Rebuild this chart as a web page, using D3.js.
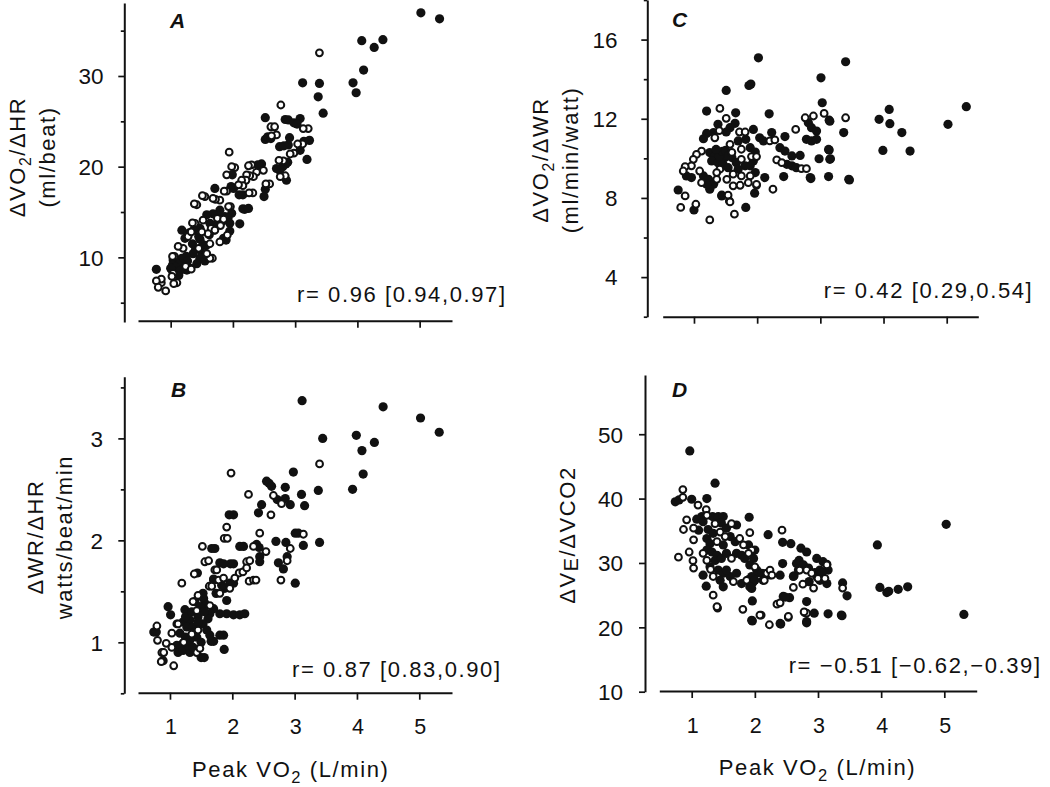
<!DOCTYPE html>
<html><head><meta charset="utf-8">
<script src="https://cdn.jsdelivr.net/npm/d3@7"></script>
<style>
body{margin:0;background:#fff;}
svg{display:block;}
text{font-family:"Liberation Sans",Arial,Helvetica,sans-serif;fill:#111;}
</style>
</head><body>
<svg id="c" width="1050" height="787"></svg>
<script>
// ---------- data ----------
const xTicks = [1, 2, 3, 4, 5];
const xTickLabels = ["1", "2", "3", "4", "5"];

// Panel A: dVO2/dHR vs peak VO2
const aFilled = [[5.02,36.97],[5.32,36.3],[4.07,33.9],[4.41,34.0],[4.27,33.15],[4.10,30.65],[3.12,29.25],[3.39,29.18],[3.93,29.25],[3.37,27.7],[3.98,28.15],[3.45,25.9],
[2.52,25.4],[2.84,25.2],[2.89,25.16],[2.98,24.84],[3.08,25.3],[3.03,24.7],
[2.52,23.0],[2.56,23.3],[2.61,23.1],[2.91,23.2],[2.89,22.4],[2.75,22.2],[3.23,22.9],[3.14,22.8],[3.08,21.8],[3.19,20.8],[2.82,22.3],
[2.85,20.3],[2.80,20.0],[2.75,19.6],[2.86,18.5],[2.70,19.8],[2.88,20.5],
[2.46,20.3],[2.44,20.0],[2.40,20.2],[1.99,19.1],[2.01,17.6],[1.97,17.8],[2.52,17.5],[2.50,16.7],[2.10,16.9],[2.19,15.3],[2.16,15.35],[1.71,17.6],[2.25,15.4],[2.16,16.9],
[1.98,14.85],[1.79,15.2],[1.74,14.7],[1.68,14.8],[1.58,14.7],[1.87,14.5],[1.92,14.3],[1.63,13.75],[1.95,13.75],[2.11,13.7],[1.47,13.2],[1.40,13.5],[1.37,13.0],[1.18,13.0],[1.30,12.7],[1.95,12.9],[1.85,12.1],[1.89,11.9],
[1.23,12.1],[1.47,12.0],[1.52,11.4],[1.57,11.3],[1.36,10.4],[1.40,10.9],[1.50,10.5],[1.57,10.3],[1.52,9.9],[1.47,9.9],[1.25,10.1],[1.18,9.9],[1.27,9.6],[1.18,9.26],[1.04,9.7],[1.10,9.3],[1.05,9.0],[1.03,9.15],[1.08,8.9],[1.26,8.6],[1.02,8.6],[1.00,8.8],[1.15,8.5],[0.77,8.68],[1.13,8.0],[1.32,8.8],[1.42,9.3],[1.55,9.6],[1.60,10.0],[1.35,11.5],[1.45,12.3],[1.62,12.5],[1.70,13.0],[1.75,13.8],[1.83,14.0]];
const aOpen = [[3.39,32.56],[2.77,26.8],[2.61,24.4],[2.67,24.4],[3.21,24.2],[3.13,24.2],[2.70,23.5],[2.62,23.4],[3.12,22.5],[3.04,22.5],[2.98,21.5],[2.92,21.4],[2.81,20.65],[2.74,20.7],[2.84,19.0],[2.76,18.9],
[2.49,19.6],[2.30,20.2],[2.25,20.1],[2.38,19.4],[2.33,18.9],[2.27,19.0],[2.22,19.1],[2.21,18.5],[2.14,18.5],[2.16,17.9],[2.09,18.0],[2.03,19.9],[1.98,20.0],[1.90,19.1],[1.94,21.6],[2.59,18.1],[2.53,18.1],[2.32,17.1],[2.26,17.1],[1.90,17.3],[1.86,17.3],
[1.55,16.7],[1.51,16.8],[1.79,16.3],[1.72,16.4],[1.68,16.5],[1.42,15.8],[1.38,15.9],[1.96,15.6],[1.93,15.6],[1.75,14.3],[1.85,14.2],[1.52,14.1],[1.39,13.75],[1.35,13.8],[1.65,13.2],[1.71,13.0],[1.80,13.5],[1.91,12.46],[1.79,11.7],[1.63,11.5],[1.60,12.6],[1.28,12.3],[1.33,12.8],[1.20,11.0],[1.67,9.9],[1.63,9.9],[1.58,10.4],[1.06,10.1],[1.03,10.1],[1.24,9.0],[1.33,8.7],[1.04,8.24],[1.10,7.2],[1.05,7.1],[1.02,7.9],[0.85,7.2],[0.85,7.6],[0.77,7.4],[0.80,6.7],[0.92,6.3],[1.12,11.2],[1.45,11.0],[1.50,12.8]];

// Panel B: dWR/dHR vs peak VO2
const bFilled = [[3.12,3.37],[4.42,3.31],[5.02,3.20],[5.32,3.06],[3.45,3.00],[3.99,3.03],[4.28,2.96],[4.08,2.88],[4.10,2.65],[3.93,2.50],[2.98,2.67],[3.38,2.49],[3.11,2.45],[3.16,2.34],[2.93,2.35],[2.85,2.52],[2.55,2.58],[2.59,2.56],[2.63,2.53],[2.72,2.40],[2.85,2.41],[2.47,2.35],[2.42,2.27],[1.95,2.25],[3.01,2.07],[3.06,2.07],[3.40,1.98],[3.14,1.95],[2.70,1.99],[2.86,1.98],[2.39,1.96],[2.43,1.93],[2.12,1.94],[2.44,1.84],[2.44,1.79],[2.88,1.84],[2.74,1.78],[2.82,1.72],[3.01,1.58],[1.97,1.77],[1.80,1.78],[1.67,1.92],[1.70,1.61],[1.96,1.58],[1.74,1.48],[1.54,1.43],[1.91,1.41],[1.91,1.28],[1.80,1.28],[2.02,1.27],[2.12,1.27],[2.20,1.28],
[0.97,1.35],[1.01,1.27],[1.24,1.32],[0.74,1.10],[0.78,1.10],[1.50,0.85],[1.55,0.85],[1.80,1.07],[1.86,1.07],[1.66,1.01],[1.70,1.01],[1.87,0.93],[0.89,0.82],[1.21,1.20],[1.32,1.22],[1.27,1.15],[1.16,1.09],[1.37,1.15],[1.40,1.40],[1.51,1.45],[1.56,1.38],[1.48,1.35],[1.70,1.33],[1.64,1.28],[1.61,1.23],[1.53,1.18],[1.59,1.12],[1.64,1.07],[1.43,1.05],[1.32,1.02],[1.21,0.99],[1.11,0.97],[1.13,0.90],[1.21,0.92],[1.32,0.90],[1.29,0.97],[1.37,0.95],[1.88,1.53],[1.83,1.56],[1.70,1.62],[2.02,1.58],[1.53,1.48],[1.44,1.68],[1.72,1.92],[1.86,1.77],[2.02,1.77],[2.02,2.25],[2.18,1.94],[1.25,1.25],[1.35,1.30],[1.45,1.25],[1.55,1.30],[1.40,1.10],[1.50,1.00],[1.25,1.05],[1.45,1.20]];
const bOpen = [[3.40,2.75],[1.98,2.66],[2.26,2.45],[2.66,2.44],[2.79,2.36],[2.62,2.25],[1.91,2.13],[1.87,2.02],[1.92,2.02],[2.44,2.07],[3.14,2.06],[2.93,1.92],[2.34,1.94],[2.54,1.89],[2.88,1.80],[2.78,1.61],[2.23,1.79],[2.28,1.80],[2.11,1.68],[2.17,1.69],[2.23,1.73],[2.27,1.60],[2.34,1.61],[2.38,1.61],[1.52,1.94],[1.56,1.79],[1.62,1.80],[1.72,1.71],[1.75,1.71],[1.39,1.67],[1.19,1.58],[1.96,1.53],[1.63,1.55],[1.67,1.55],[1.80,1.48],[1.37,1.40],[1.45,1.46],[1.43,1.31],[1.64,1.36],[1.78,1.61],[1.86,1.63],[2.04,1.63],[1.11,1.18],[0.79,1.16],[0.80,1.02],[1.03,1.09],[0.94,0.99],[0.87,0.90],[0.90,0.90],[0.86,0.81],[1.06,0.77],[1.13,1.18],[1.45,1.12],[1.03,0.95],[1.43,0.90],[1.48,0.94],[1.22,1.00],[1.35,1.08]];

// Panel C: dVO2/dWR vs peak VO2
const cFilled = [[2.02,15.08],[3.40,14.88],[3.01,14.07],[1.51,13.43],[1.87,13.68],[1.90,13.75],[3.03,12.81],[5.31,12.61],[4.09,12.47],[3.93,11.97],[4.10,11.75],[4.29,11.30],[5.02,11.72],[3.99,10.40],[4.42,10.37],[3.37,11.30],[3.46,8.91],[3.14,11.93],[3.14,10.42],[3.16,9.98],[3.13,9.08],[2.98,9.98],[2.85,8.98],[1.20,12.39],[1.66,12.30],[2.19,12.25],[2.44,11.10],[2.42,9.08],[2.12,9.03],[1.96,8.24],[1.82,7.52],[1.44,8.10],[1.00,7.39],[0.75,8.40],
[1.38,11.72],[1.65,11.77],[1.57,11.55],[1.51,11.33],[1.94,11.46],[1.31,11.30],[1.20,11.26],[1.15,10.99],[1.70,10.88],[1.82,10.96],[2.04,11.04],[2.10,10.88],[2.23,11.30],[1.89,10.54],[1.97,10.32],[1.94,9.87],[1.89,9.62],[0.88,9.11],[0.96,9.03],[1.25,10.29],[1.33,10.12],[1.41,10.20],[1.49,10.04],[1.28,9.87],[1.38,9.78],[1.46,9.70],[1.54,9.53],[1.60,10.04],[1.67,9.78],[1.81,9.62],[1.70,9.45],[1.97,9.28],[1.15,9.11],[1.23,8.94],[1.31,8.69],[1.25,8.44],[1.20,8.69],[1.44,8.14],[2.36,10.54],[2.44,10.37],[2.55,10.12],[2.47,9.70],[2.55,9.62],[2.62,9.53],[2.68,10.15],[2.81,11.80],[2.86,11.55],[2.94,11.38],[2.78,10.96],[2.86,10.88],[2.94,10.96],[3.13,10.45],[3.15,9.95],[2.84,9.03],[3.15,11.88],[3.45,8.94],[1.40,10.10],[1.45,10.35],[1.35,10.45],[1.50,10.40],[1.55,10.15]];
const cOpen = [[3.40,12.05],[3.06,12.27],[1.41,12.52],[1.51,12.02],[2.61,11.46],[2.76,12.05],[2.89,12.14],[1.99,8.64],[2.25,8.44],[1.64,7.18],[1.56,7.85],[1.25,6.89],[1.03,7.68],[0.79,7.52],[0.86,8.10],[1.72,11.33],[1.81,11.33],[1.33,11.04],[1.57,10.71],[2.20,10.88],[2.28,10.93],[1.75,10.46],[1.91,10.09],[1.99,10.09],[1.12,10.37],[1.04,10.20],[0.99,9.95],[0.96,9.62],[0.86,9.58],[0.83,9.36],[1.09,9.36],[1.41,9.45],[1.36,9.28],[1.75,9.95],[1.62,9.20],[1.75,9.11],[1.89,9.11],[1.12,8.77],[1.36,8.94],[1.52,8.94],[1.62,8.61],[1.73,8.64],[1.86,8.77],[1.99,8.69],[1.54,8.14],[1.57,7.80],[2.31,9.92],[2.39,9.78],[2.70,9.48],[2.78,9.48],[1.40,11.40],[1.60,10.30]];

// Panel D: dVE/dVCO2 vs peak VO2
const dFilled = [[0.97,47.4],[1.37,42.4],[5.03,36.0],[3.94,32.8],[5.31,22.0],[4.09,25.4],[4.12,25.6],[4.27,25.9],[4.42,26.3],[3.98,26.2],[3.39,26.9],[3.46,24.9],[3.38,21.8],[3.16,22.1],[2.94,22.2],[2.82,20.7],[2.82,24.0],[2.41,20.5],[1.96,21.0],[1.96,24.1],[2.55,24.6],[2.45,24.8],[2.44,33.2],[2.57,33.0],[2.21,34.4],[1.91,37.1],[2.73,32.3],[2.82,31.7],[2.98,30.7],[3.14,29.8],[2.69,28.9],[2.66,29.9],[2.70,30.4],[3.14,26.8],[3.05,27.5],[2.95,28.5],[2.62,28.0],[2.86,27.1],[2.44,29.9],[2.40,28.1],[2.15,28.3],[2.05,28.5],[1.95,26.05],[1.97,27.0],[1.90,27.4],[0.74,39.5],[0.80,39.8],[1.00,39.9],[1.24,40.0],[1.16,37.2],[1.33,37.2],[1.42,37.2],[1.50,37.2],[1.08,36.8],[1.18,36.4],[1.47,36.2],[1.55,35.4],[1.71,35.9],[1.11,35.1],[1.26,35.2],[1.34,34.6],[1.24,33.8],[1.29,33.0],[1.50,32.8],[1.61,34.1],[1.69,33.3],[1.90,32.8],[2.00,32.0],[1.24,32.0],[1.32,31.7],[1.40,31.2],[1.29,29.4],[1.37,30.4],[1.47,30.7],[1.55,31.5],[1.71,31.5],[1.79,31.2],[1.84,30.7],[1.98,30.7],[1.92,29.7],[1.42,28.9],[1.50,28.4],[1.45,27.3],[1.50,26.3],[1.61,27.9],[1.55,28.9],[1.71,28.4],[1.79,26.8],[1.95,27.9],[2.03,28.9],[2.11,28.4],[2.13,27.3],[2.00,27.3],[2.61,27.9],[2.77,29.7],[2.85,29.2],[3.08,30.2],[3.03,28.9],[2.98,27.9],[3.16,28.9],[3.06,28.4],[3.03,27.3],[1.18,28.1],[1.23,26.4],[1.95,21.1],[2.48,24.7],[2.40,20.6],[2.82,20.9],[3.37,21.9],[1.92,26.3]];
const dOpen = [[3.39,26.1],[2.79,22.3],[2.23,20.4],[2.10,21.9],[1.81,22.8],[1.41,23.0],[1.34,25.0],[2.53,21.55],[2.35,23.6],[2.40,23.8],[2.43,35.1],[1.92,34.7],[2.82,28.9],[3.00,27.6],[2.61,26.2],[2.93,26.1],[2.24,28.1],[2.15,27.3],[0.86,40.2],[0.86,41.4],[1.10,39.0],[1.23,38.3],[0.92,36.7],[1.24,37.4],[1.37,36.1],[1.63,36.1],[0.87,35.2],[1.03,35.4],[1.03,33.6],[1.45,34.8],[1.53,34.1],[1.40,33.3],[1.76,33.8],[1.82,32.8],[1.95,32.0],[0.96,31.7],[0.79,30.9],[1.02,30.35],[1.03,29.2],[1.18,31.5],[1.24,30.4],[1.63,30.7],[1.90,31.5],[2.00,29.4],[1.66,27.1],[1.87,27.3],[2.19,28.4],[2.24,28.9],[2.27,28.1],[2.71,28.9],[3.14,29.7],[3.11,27.6],[2.90,28.4],[2.76,26.7],[1.34,27.9],[1.40,23.2],[2.08,21.9],[2.53,21.7],[2.82,22.2],[2.78,22.4],[1.30,29.0]];

const yMajorA = [10, 20, 30], yMinorA = [5, 15, 25, 35];
const yMajorB = [1, 2, 3], yMinorB = [0.5, 1.5, 2.5, 3.5];
const yMajorC = [4, 8, 12, 16], yMinorC = [2, 6, 10, 14, 18];
const yMajorD = [10, 20, 30, 40, 50], yMinorD = [];

const rTexts = ["r= 0.96 [0.94,0.97]", "r= 0.87 [0.83,0.90]", "r= 0.42 [0.29,0.54]", "r= \u22120.51 [\u22120.62,\u22120.39]"];
const panelLetters = ["A", "B", "C", "D"];

// ---------- layout ----------
const svg = d3.select("#c");
const FONT = 22, LS = 1.6;

const panels = [
  {letter: panelLetters[0], filled: aFilled, open: aOpen, r: rTexts[0],
   xDom: [0.475, 5.52], xRange: [138, 452], xAxisY: 320.7, xLabels: false,
   yDom: [2.87, 38.05], yRange: [322, 3], yAxisX: 124.3, major: yMajorA, minor: yMinorA, yLabX: 103.5,
   rX: 505, rY: 301.7, letX: 170, letY: 28.3,
   ylab: [{x: 25, y: 157, parts: [["\u0394VO"], ["2", true], ["/\u0394HR"]]}, {x: 55, y: 157, parts: [["(ml/beat)"]]}]},
  {letter: panelLetters[1], filled: bFilled, open: bOpen, r: rTexts[1],
   xDom: [0.487, 5.525], xRange: [138, 452], xAxisY: 692.7, xLabels: true, xLabY: 734.3, titleX: 290.8, titleY: 777,
   yDom: [0.5, 3.605], yRange: [693.3, 376.7], yAxisX: 124.3, major: yMajorB, minor: yMinorB, yLabX: 103,
   rX: 500, rY: 677, letX: 171, letY: 396.7,
   ylab: [{x: 43, y: 537, parts: [["\u0394WR/\u0394HR"]]}, {x: 71.5, y: 537, parts: [["watts/beat/min"]]}]},
  {letter: panelLetters[2], filled: cFilled, open: cOpen, r: rTexts[2],
   xDom: [0.505, 5.5], xRange: [662.7, 978.3], xAxisY: 316.7, xLabels: false,
   yDom: [2, 18], yRange: [316.7, 0], yAxisX: 647.3, major: yMajorC, minor: yMinorC, yLabX: 617.5,
   rX: 1031.7, rY: 298, letX: 672, letY: 27,
   ylab: [{x: 548, y: 160, parts: [["\u0394VO"], ["2", true], ["/\u0394WR"]]}, {x: 577.5, y: 160, parts: [["(ml/min/watt)"]]}]},
  {letter: panelLetters[3], filled: dFilled, open: dOpen, r: rTexts[3],
   xDom: [0.487, 5.513], xRange: [659.3, 976.7], xAxisY: 691, xLabels: true, xLabY: 733, titleX: 817.5, titleY: 775,
   yDom: [10, 59.2], yRange: [691.7, 375], yAxisX: 645, major: yMajorD, minor: yMinorD, yLabX: 623,
   rX: 1040, rY: 673, letX: 672, letY: 396.7,
   ylab: [{x: 575, y: 535, parts: [["\u0394V"], ["E", true, 0.9, 3], ["/\u0394VCO2"]]}]}
];

function richText(parent, parts, size) {
  const t = parent.append("text").attr("font-size", size).attr("letter-spacing", LS);
  let shift = 0;
  parts.forEach(p => {
    const ts = t.append("tspan").text(p[0]);
    if (p[1]) {
      const sc = p[2] || 0.72, dy = p[3] || 6;
      ts.attr("font-size", size * sc).attr("dy", dy - shift);
      shift = dy;
    } else if (shift) {
      ts.attr("dy", -shift);
      shift = 0;
    }
  });
  return t;
}

panels.forEach(P => {
  const x = d3.scaleLinear().domain(P.xDom).range(P.xRange);
  const y = d3.scaleLinear().domain(P.yDom).range(P.yRange);
  const g = svg.append("g");

  const gx = g.append("g").attr("transform", `translate(0,${P.xAxisY})`)
    .call(d3.axisBottom(x).tickValues(xTicks).tickSize(7).tickSizeOuter(0).tickFormat(""));
  const gy = g.append("g").attr("transform", `translate(${P.yAxisX},0)`)
    .call(d3.axisLeft(y).tickValues(P.major).tickSize(6).tickSizeOuter(0).tickFormat(""));
  const gm = g.append("g").attr("transform", `translate(${P.yAxisX},0)`)
    .call(d3.axisLeft(y).tickValues(P.minor).tickSize(3.5).tickSizeOuter(0).tickFormat(""));
  gm.select(".domain").remove();
  [gx, gy, gm].forEach(a => {
    a.select(".domain").attr("stroke", "#111").attr("stroke-width", 2);
    a.selectAll(".tick line").attr("stroke", "#111").attr("stroke-width", 1.7);
  });

  g.selectAll(null).data(P.major).enter().append("text")
    .attr("x", P.yLabX).attr("y", d => y(d) + 8.3)
    .attr("text-anchor", "end").attr("font-size", 22.5).text(d => d);

  if (P.xLabels) {
    g.selectAll(null).data(xTicks).enter().append("text")
      .attr("x", d => x(d) + 1).attr("y", P.xLabY)
      .attr("text-anchor", "middle").attr("font-size", 21.5).text((d, i) => xTickLabels[i]);
    const tg = g.append("g").attr("transform", `translate(${P.titleX},${P.titleY})`);
    richText(tg, [["Peak VO"], ["2", true, 0.75, 6], [" (L/min)"]], FONT).attr("text-anchor", "middle");
  }

  P.ylab.forEach(L => {
    const lg = g.append("g").attr("transform", `translate(${L.x},${L.y}) rotate(-90)`);
    richText(lg, L.parts, FONT).attr("text-anchor", "middle");
  });

  g.append("text").attr("x", P.letX).attr("y", P.letY)
    .attr("font-size", 21).attr("font-weight", "bold").attr("font-style", "italic").text(P.letter);

  g.append("text").attr("x", P.rX + LS).attr("y", P.rY).attr("text-anchor", "end")
    .attr("font-size", FONT).attr("letter-spacing", LS).text(P.r);

  g.append("g").selectAll("circle").data(P.filled).enter().append("circle")
    .attr("cx", d => x(d[0])).attr("cy", d => y(d[1])).attr("r", 4.6)
    .attr("fill", "#111");
  g.append("g").selectAll("circle").data(P.open).enter().append("circle")
    .attr("cx", d => x(d[0])).attr("cy", d => y(d[1])).attr("r", 3.4)
    .attr("fill", "#fff").attr("stroke", "#111").attr("stroke-width", 2);
});
</script>
</body></html>
